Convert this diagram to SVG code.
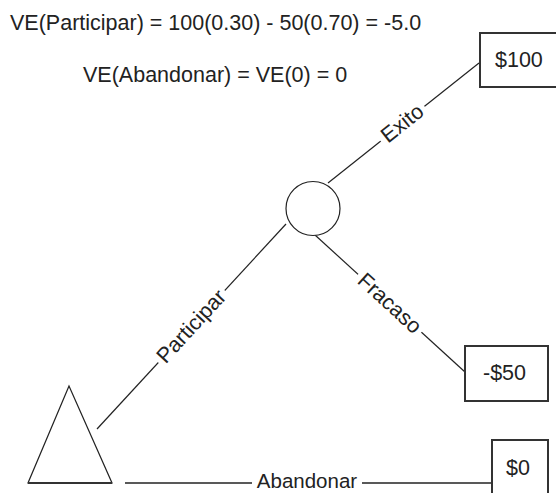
<svg xmlns="http://www.w3.org/2000/svg" width="556" height="493" viewBox="0 0 556 493">
<style>
text{font-family:"Liberation Sans",Arial,sans-serif;font-size:21.5px;fill:#222}
.ln{stroke:#222;stroke-width:1.2;fill:none}
.box{stroke:#333;stroke-width:2;fill:#fff}
.node{stroke:#222;stroke-width:1.2;fill:#fff}
.bg{fill:#fff}
</style>
<rect width="556" height="493" fill="#fff"/>
<g id="formulas">
<text x="10" y="30">VE(Participar) = 100(0.30) - 50(0.70) = -5.0</text>
<text x="83" y="82">VE(Abandonar) = VE(0) = 0</text>
</g>
<g id="connectors">
<line class="ln" x1="97" y1="429" x2="286" y2="224"/>
<line class="ln" x1="328" y1="183" x2="479" y2="63"/>
<line class="ln" x1="315" y1="235" x2="465" y2="372"/>
<line class="ln" x1="125" y1="483" x2="492" y2="483" style="stroke-width:1.6"/>
<g transform="translate(191,326) rotate(-47.3)">
<rect class="bg" x="-49" y="-11" width="98" height="22"/>
<text x="0" y="7.5" text-anchor="middle">Participar</text>
</g>
<g transform="translate(402,123) rotate(-38.5)">
<rect class="bg" x="-28" y="-11" width="56" height="22"/>
<text x="0" y="7.5" text-anchor="middle">Exito</text>
</g>
<g transform="translate(390,303) rotate(42.4)">
<rect class="bg" x="-43" y="-11" width="86" height="22"/>
<text x="0" y="7.5" text-anchor="middle">Fracaso</text>
</g>
<g transform="translate(307,481)">
<rect class="bg" x="-55" y="-9" width="110" height="18"/>
<text x="0" y="7" text-anchor="middle" style="font-size:20.5px">Abandonar</text>
</g>
</g>
<g id="decision">
<polygon class="node" points="69,386 28,483 112,483"/>
<line x1="28" y1="483" x2="112" y2="483" stroke="#333" stroke-width="2"/>
</g>
<g id="chance">
<circle class="node" cx="313" cy="208.5" r="27"/>
</g>
<g id="outcome-100">
<rect class="box" x="480" y="33" width="82" height="54"/>
<text x="495" y="67">$100</text>
</g>
<g id="outcome-minus50">
<rect class="box" x="465" y="346" width="83" height="55"/>
<text x="483" y="380">-$50</text>
</g>
<g id="outcome-0">
<rect class="box" x="492" y="440" width="56" height="60"/>
<text x="506" y="475">$0</text>
</g>
</svg>
